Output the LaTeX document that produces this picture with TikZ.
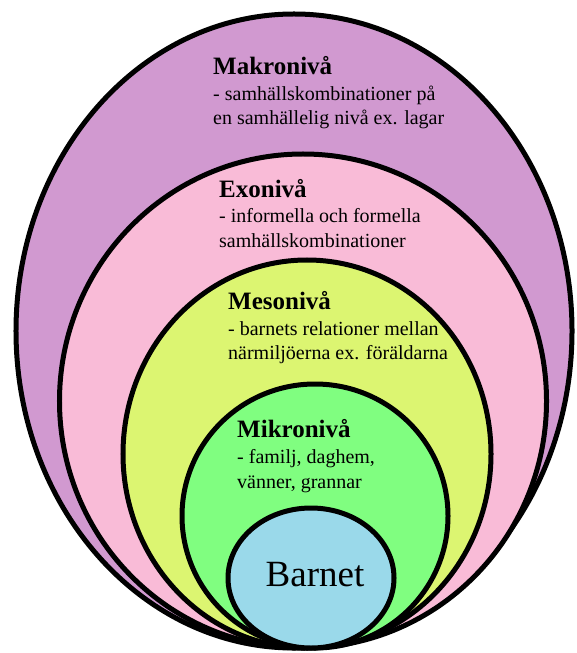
\documentclass[tikz,border=0pt]{standalone}
\usepackage{fontspec}
\setmainfont{Liberation Serif}
\usetikzlibrary{shapes.geometric}
\definecolor{makroC}{RGB}{209,153,208}
\definecolor{exoC}{RGB}{249,187,215}
\definecolor{mesoC}{RGB}{220,245,113}
\definecolor{mikroC}{RGB}{128,254,128}
\definecolor{barnC}{RGB}{154,217,234}
\begin{document}
\begin{tikzpicture}[x=1bp,y=-1bp,
  ring/.style={ellipse, draw=black, line width=5bp, inner sep=0pt, outer sep=0pt},
  ttl/.style={anchor=base west, inner sep=0pt, font=\fontsize{25bp}{28bp}\selectfont\bfseries},
  bodytxt/.style={anchor=base west, inner sep=0pt, font=\fontsize{20bp}{24bp}\selectfont},
  bigtxt/.style={anchor=base, inner sep=0pt, font=\fontsize{37bp}{40bp}\selectfont}]
\useasboundingbox (0,0) rectangle (577,653);
\node[ring, fill=makroC, minimum width=556bp, minimum height=634bp] (makro) at (294,331) {};
\node[ring, fill=exoC, minimum width=487bp, minimum height=494bp] (exo) at (303,401) {};
\node[ring, fill=mesoC, minimum width=368bp, minimum height=388bp] (meso) at (307,454) {};
\node[ring, fill=mikroC, minimum width=266bp, minimum height=264bp] (mikro) at (315,516) {};
\node[ring, fill=barnC, minimum width=166bp, minimum height=140bp] (barnet) at (311,578) {};
% texts
\node[ttl] (makroT) at (213,75) {Makronivå};
\node[bodytxt] (makroA) at (213,101) {- samhällskombinationer på};
\node[bodytxt] (makroB) at (213,125) {en samhällelig nivå ex. lagar};
\node[ttl] (exoT) at (219,197) {Exonivå};
\node[bodytxt] (exoA) at (219,222) {- informella och formella};
\node[bodytxt] (exoB) at (219,247) {samhällskombinationer};
\node[ttl] (mesoT) at (228,309) {Mesonivå};
\node[bodytxt] (mesoA) at (228,335) {- barnets relationer mellan};
\node[bodytxt] (mesoB) at (228,359) {närmiljöerna ex. föräldarna};
\node[ttl] (mikroT) at (237,437) {Mikronivå};
\node[bodytxt] (mikroA) at (237,463) {- familj, daghem,};
\node[bodytxt] (mikroB) at (237,488) {vänner, grannar};
\node[bigtxt] (barnetT) at (315,586) {Barnet};
\end{tikzpicture}
\end{document}
